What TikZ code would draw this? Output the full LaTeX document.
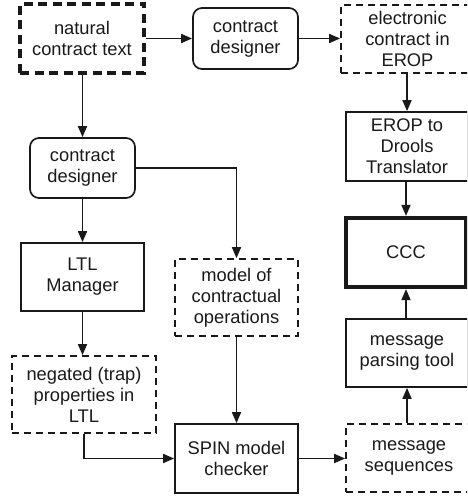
\documentclass[tikz,border=0pt]{standalone}
\usepackage{fontspec}
\setmainfont{Liberation Sans}
\usetikzlibrary{arrows.meta}
\begin{document}
\begin{tikzpicture}[x=1pt,y=-1pt,
  box/.style={draw=black!90, line width=1.7pt, inner sep=0pt, align=center,
    font=\fontsize{18.3}{21}\selectfont, text=black!90},
  solidbox/.style={box},
  roundbox/.style={box, rounded corners=9pt},
  dashbox/.style={box, dash pattern=on 7pt off 5pt},
  thickdash/.style={box, line width=3.8pt, dash pattern=on 9pt off 5.5pt},
  thickbox/.style={box, line width=4.2pt},
  arr/.style={draw=black!90, line width=1.7pt, -{Triangle[length=11pt,width=9pt]}}]
\clip (0,0) rectangle (467,497);
\node[thickdash, minimum width=124pt, minimum height=69pt] (nat) at (82,38.5) {natural\\contract text};
\node[roundbox, minimum width=105pt, minimum height=61pt] (cd1) at (245.5,38.5) {contract\\designer};
\node[dashbox, minimum width=133pt, minimum height=68pt] (ec) at (407.5,39) {electronic\\contract in\\EROP};
\node[solidbox, minimum width=122pt, minimum height=69pt] (dr) at (407,146.5) {EROP to\\Drools\\Translator};
\node[thickbox, minimum width=120pt, minimum height=69pt] (ccc) at (406,252.5) {CCC};
\node[solidbox, minimum width=122pt, minimum height=68pt] (mp) at (407,353) {message\\parsing tool};
\node[dashbox, minimum width=126pt, minimum height=68pt] (ms) at (409,458) {message\\sequences};
\node[roundbox, minimum width=105pt, minimum height=60pt] (cd2) at (82.5,168) {contract\\designer};
\node[solidbox, minimum width=123pt, minimum height=68pt] (ltl) at (82.5,277) {LTL\\Manager};
\node[dashbox, minimum width=144pt, minimum height=77pt] (neg) at (84,394.5) {negated (trap)\\properties in\\LTL};
\node[dashbox, minimum width=123pt, minimum height=77pt] (mod) at (236.5,297.5) {model of\\contractual\\operations};
\node[solidbox, minimum width=123pt, minimum height=69pt] (spin) at (236.5,458.5) {SPIN model\\checker};
\draw[arr] (nat.east) -- (cd1.west);
\draw[arr] (cd1.east) -- (cd1.east -| ec.west);
\draw[arr] (nat.south -| cd2.north) -- (cd2.north);
\draw[arr] (cd2.south) -- (cd2.south |- ltl.north);
\draw[arr] (ltl.south) -- (ltl.south |- neg.north);
\draw[arr] (neg.south) |- (spin.west);
\draw[arr] (cd2.east) -| (mod.north);
\draw[arr] (mod.south) -- (spin.north);
\draw[arr] (spin.east) -- (spin.east -| ms.west);
\draw[arr] (ms.north -| mp.south) -- (mp.south);
\draw[arr] (mp.north -| ccc.south) -- (ccc.south);
\draw[arr] (ec.south -| dr.north) -- (dr.north);
\draw[arr] (dr.south -| ccc.north) -- (ccc.north);
\end{tikzpicture}
\end{document}
